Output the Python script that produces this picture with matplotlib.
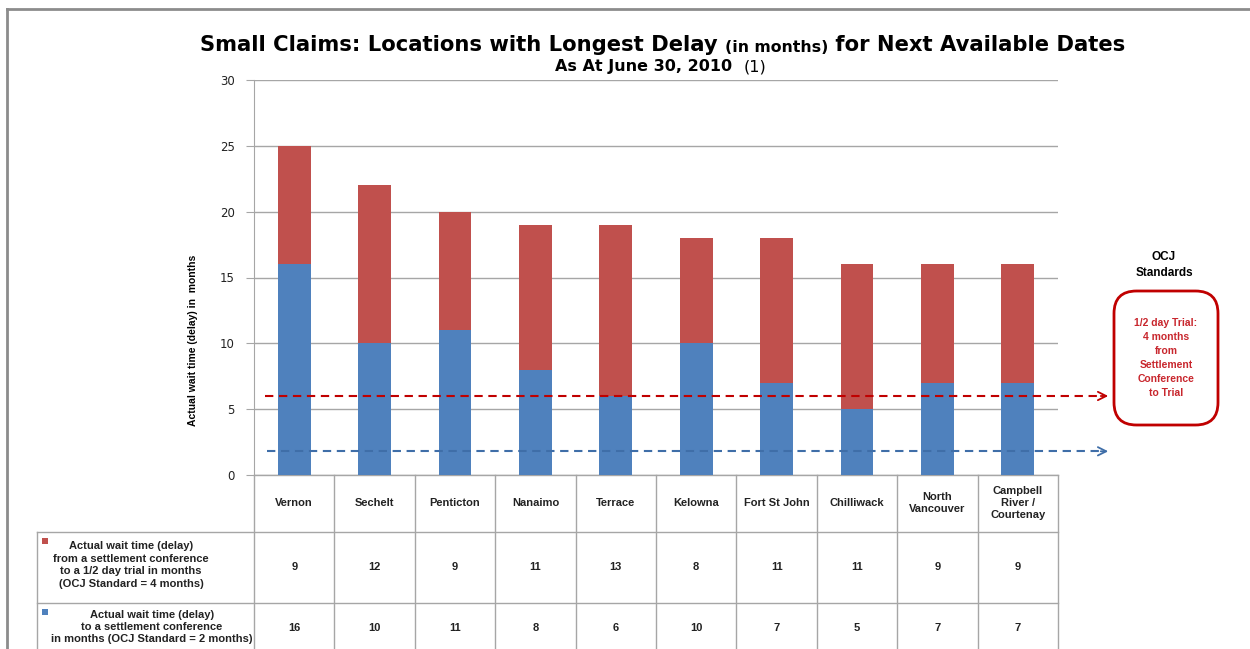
import matplotlib

matplotlib.use("Agg")
import matplotlib.pyplot as plt
from matplotlib.patches import FancyBboxPatch, Rectangle
from matplotlib.transforms import blended_transform_factory

locations = ["Vernon", "Sechelt", "Penticton", "Nanaimo", "Terrace", "Kelowna",
             "Fort St John", "Chilliwack", "North\nVancouver", "Campbell\nRiver /\nCourtenay"]
to_trial = [9, 12, 9, 11, 13, 8, 11, 11, 9, 9]
to_conf = [16, 10, 11, 8, 6, 10, 7, 5, 7, 7]
row_labels = [
    "Actual wait time (delay)\nfrom a settlement conference\nto a 1/2 day trial in months\n(OCJ Standard = 4 months)",
    "Actual wait time (delay)\nto a settlement conference\nin months (OCJ Standard = 2 months)",
]
std_trial_line = 6.0   # red dashed reference
std_conf_line = 1.8    # blue dashed reference
yticks = [0, 5, 10, 15, 20, 25, 30]

RED = "#C0504D"
BLUE = "#4F81BD"
GRID = "#A6A6A6"
W, H = 1250, 649


def fx(px):
    return px / W


def fy(py):
    return 1 - py / H


fig = plt.figure(figsize=(12.5, 6.49), dpi=100)
ax = fig.add_axes([fx(254), fy(475), fx(1058) - fx(254), fy(80) - fy(475)])

xs = list(range(len(locations)))
ax.bar(xs, to_conf, width=0.41, color=BLUE, zorder=3)
ax.bar(xs, to_trial, width=0.41, bottom=to_conf, color=RED, zorder=3)
ax.set_xlim(-0.5, len(locations) - 0.5)
ax.set_ylim(0, 30)
ax.set_yticks(yticks)
ax.set_xticks([])
ax.yaxis.grid(True, color=GRID, lw=1, zorder=0)
for s in ["top", "right", "bottom"]:
    ax.spines[s].set_visible(False)
ax.spines["left"].set_color(GRID)
ax.tick_params(axis="y", length=6, color=GRID, labelsize=8.5, pad=8, labelcolor="#222222")

# frame
fig.add_artist(plt.Line2D([fx(7), 1], [fy(9), fy(9)], color="#8C8C8C", lw=2))
fig.add_artist(plt.Line2D([fx(7), fx(7)], [fy(9), 0], color="#8C8C8C", lw=2))

# titles
t1 = fig.text(fx(200), fy(45), "Small Claims: Locations with Longest Delay ", fontsize=15.2,
              fontweight="bold", va="center", ha="left")
t2 = ax.annotate("(in months)", xy=(1, 0), xycoords=t1, fontsize=11.3, fontweight="bold",
                 va="bottom", ha="left")
ax.annotate(" for Next Available Dates", xy=(1, 0), xycoords=t2, fontsize=15.2, fontweight="bold",
            va="bottom", ha="left")
s1 = fig.text(fx(555), fy(67), "As At June 30, 2010  ", fontsize=11.5, fontweight="bold",
              va="center", ha="left")
ax.annotate("(1)", xy=(1, 0), xycoords=s1, fontsize=11.5, va="bottom", ha="left")

fig.text(fx(193), fy(340), "Actual wait time (delay) in  months", rotation=90, fontsize=7.5,
         fontweight="bold", va="center", ha="center", family="Liberation Sans")

# dashed standard lines with open arrowheads
bt = blended_transform_factory(fig.transFigure, ax.transData)
for yv, col, x0 in [(std_trial_line, "#C00000", 265), (std_conf_line, "#3F6EA8", 267)]:
    ax.plot([fx(x0), fx(1103)], [yv, yv], transform=bt, color=col, lw=1.5,
            ls=(0, (4, 2.7)), clip_on=False, zorder=5)
    ax.annotate("", xy=(fx(1111), yv), xytext=(fx(1098), yv), xycoords=bt, textcoords=bt,
                arrowprops=dict(arrowstyle="->,head_length=0.6,head_width=0.3", color=col, lw=1.3),
                annotation_clip=False)

# OCJ box
fig.text(fx(1164), fy(265), "OCJ\nStandards", fontsize=8.5, fontweight="bold", ha="center",
         va="center", linespacing=1.4, family="Liberation Sans")
box = FancyBboxPatch((fx(1114), fy(425)), fx(1218) - fx(1114), fy(291) - fy(425),
                     boxstyle="round,pad=0,rounding_size=0.018", transform=fig.transFigure,
                     fill=False, ec="#C00000", lw=2, mutation_aspect=W / H)
fig.add_artist(box)
fig.text(fx(1166), fy(358), "1/2 day Trial:\n4 months\nfrom\nSettlement\nConference\nto Trial",
         fontsize=7.5, fontweight="bold", color="#C8262D", ha="center", va="center",
         linespacing=1.5, family="Liberation Sans")

# data table under the chart
tt = blended_transform_factory(ax.transData, fig.transFigure)
lkw = dict(color=GRID, lw=1, clip_on=False)
y_hdr, y_r1, y_r2, y_bot = fy(475), fy(532), fy(603), 0
for i in range(len(locations) + 1):
    ax.plot([i - 0.5, i - 0.5], [y_hdr, y_bot], transform=tt, **lkw)
ax.plot([-0.5, len(locations) - 0.5], [y_hdr, y_hdr], transform=tt, **lkw)
for yy in (y_r1, y_r2):
    ax.plot([fx(37), fx(1058)], [yy, yy], transform=fig.transFigure, **lkw)
ax.plot([fx(37), fx(37)], [y_r1, y_bot], transform=fig.transFigure, **lkw)

tkw = dict(fontsize=8, fontweight="bold", ha="center", va="center", family="Liberation Sans",
           color="#222222")
for i, name in enumerate(locations):
    ax.text(i, fy(503), name, transform=tt, linespacing=1.3, **tkw)
    ax.text(i, fy(567), str(to_trial[i]), transform=tt, **tkw)
    ax.text(i, fy(628), str(to_conf[i]), transform=tt, **tkw)

fig.text(fx(131), fy(565), row_labels[0], linespacing=1.3, **tkw)
fig.text(fx(152), fy(627), row_labels[1], linespacing=1.3, **tkw)
for py, col in [(541, RED), (612, BLUE)]:
    fig.add_artist(Rectangle((fx(42), fy(py) - 3 / H), 6 / W, 6 / H, transform=fig.transFigure,
                             color=col, lw=0))

fig.savefig("out.png", dpi=100)
